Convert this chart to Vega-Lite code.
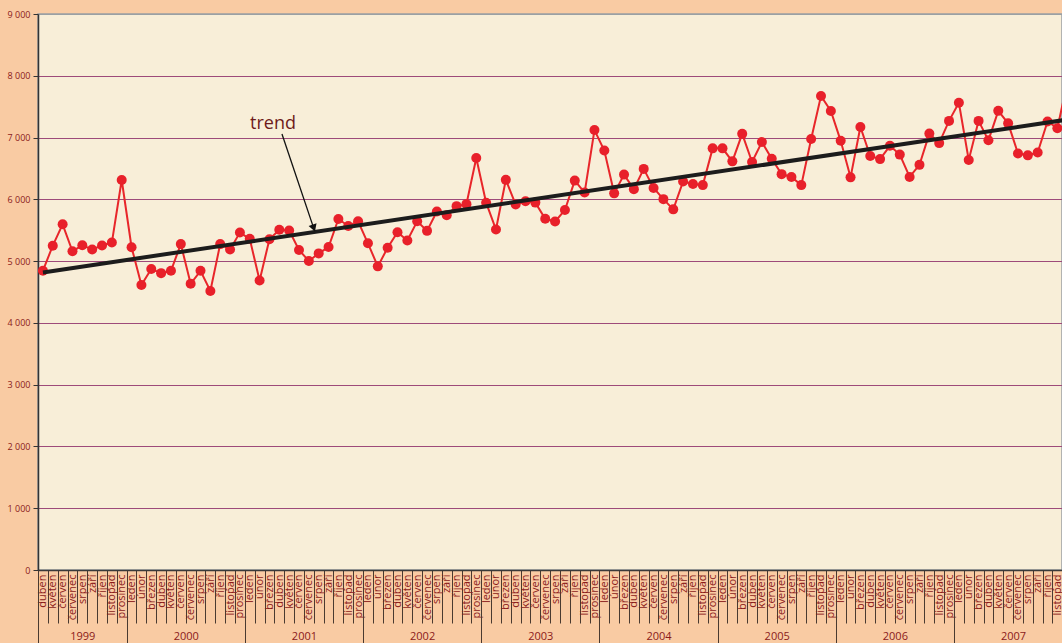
{
  "$schema": "https://vega.github.io/schema/vega-lite/v6.json",
  "width": 1024,
  "height": 556,
  "autosize": {"type": "none"},
  "padding": {"left": 38, "top": 14, "right": 0, "bottom": 73},
  "background": "#f9cba3",
  "config": {
    "view": {"fill": "#f8eed8", "stroke": "#9aa0a4", "strokeWidth": 1.5},
    "axis": {"title": null}
  },
  "datasets": {
    "monthly": [
      {"t":0,"v":4845},{"t":1,"v":5250},{"t":2,"v":5596},{"t":3,"v":5160},{"t":4,"v":5256},{"t":5,"v":5188},{"t":6,"v":5252},{"t":7,"v":5300},{"t":8,"v":6313},
      {"t":9,"v":5225},{"t":10,"v":4613},{"t":11,"v":4872},{"t":12,"v":4805},{"t":13,"v":4843},{"t":14,"v":5275},{"t":15,"v":4633},{"t":16,"v":4843},{"t":17,"v":4516},{"t":18,"v":5275},{"t":19,"v":5188},{"t":20,"v":5462},
      {"t":21,"v":5360},{"t":22,"v":4685},{"t":23,"v":5355},{"t":24,"v":5507},{"t":25,"v":5495},{"t":26,"v":5180},{"t":27,"v":5002},{"t":28,"v":5125},{"t":29,"v":5228},{"t":30,"v":5682},{"t":31,"v":5569},{"t":32,"v":5645},
      {"t":33,"v":5288},{"t":34,"v":4915},{"t":35,"v":5215},{"t":36,"v":5468},{"t":37,"v":5334},{"t":38,"v":5644},{"t":39,"v":5490},{"t":40,"v":5803},{"t":41,"v":5744},{"t":42,"v":5890},{"t":43,"v":5922},{"t":44,"v":6670},
      {"t":45,"v":5946},{"t":46,"v":5512},{"t":47,"v":6315},{"t":48,"v":5916},{"t":49,"v":5970},{"t":50,"v":5947},{"t":51,"v":5685},{"t":52,"v":5640},{"t":53,"v":5828},{"t":54,"v":6303},{"t":55,"v":6110},{"t":56,"v":7122},
      {"t":57,"v":6790},{"t":58,"v":6097},{"t":59,"v":6400},{"t":60,"v":6165},{"t":61,"v":6493},{"t":62,"v":6183},{"t":63,"v":6003},{"t":64,"v":5838},{"t":65,"v":6290},{"t":66,"v":6248},{"t":67,"v":6230},{"t":68,"v":6825},
      {"t":69,"v":6825},{"t":70,"v":6615},{"t":71,"v":7060},{"t":72,"v":6605},{"t":73,"v":6928},{"t":74,"v":6656},{"t":75,"v":6408},{"t":76,"v":6362},{"t":77,"v":6230},{"t":78,"v":6977},{"t":79,"v":7673},{"t":80,"v":7430},
      {"t":81,"v":6947},{"t":82,"v":6356},{"t":83,"v":7171},{"t":84,"v":6701},{"t":85,"v":6651},{"t":86,"v":6866},{"t":87,"v":6724},{"t":88,"v":6362},{"t":89,"v":6558},{"t":90,"v":7064},{"t":91,"v":6910},{"t":92,"v":7270},
      {"t":93,"v":7562},{"t":94,"v":6637},{"t":95,"v":7270},{"t":96,"v":6955},{"t":97,"v":7432},{"t":98,"v":7230},{"t":99,"v":6742},{"t":100,"v":6712},{"t":101,"v":6758},{"t":102,"v":7260},{"t":103,"v":7152},{"t":104,"v":7880}
    ],
    "trend": [{"t":0,"v":4816},{"t":104,"v":7291}],
    "label": [{"t":23.36,"v":7220,"text":"trend"}],
    "arrow": [{"t":24.27,"v":7058},{"t":27.5,"v":5530}],
    "head": [{"t":27.46,"v":5552}]
  },
  "resolve": {"axis": {"x": "independent", "y": "independent"}},
  "layer": [
    {
      "data": {"name": "monthly"},
      "mark": {"type": "line", "color": "#e8262a", "strokeWidth": 2, "clip": true},
      "encoding": {
        "x": {"field": "t", "type": "quantitative",
          "scale": {"domain": [-0.5, 103.47], "nice": false, "zero": false},
          "axis": {
            "orient": "bottom",
            "values": [0,1,2,3,4,5,6,7,8,9,10,11,12,13,14,15,16,17,18,19,20,21,22,23,24,25,26,27,28,29,30,31,32,33,34,35,36,37,38,39,40,41,42,43,44,45,46,47,48,49,50,51,52,53,54,55,56,57,58,59,60,61,62,63,64,65,66,67,68,69,70,71,72,73,74,75,76,77,78,79,80,81,82,83,84,85,86,87,88,89,90,91,92,93,94,95,96,97,98,99,100,101,102,103,104],
            "labelExpr": "['leden','únor','březen','duben','květen','červen','červenec','srpen','září','říjen','listopad','prosinec'][(datum.value + 3) % 12]",
            "tickOffset": -4.92,
            "labelOffset": 4.92,
            "tickSize": 53,
            "tickColor": "#4a3a30",
            "tickWidth": 1,
            "labelAngle": -90,
            "labelAlign": "right",
            "labelBaseline": "middle",
            "labelPadding": -49,
            "labelFont": "Open Sans",
            "labelFontSize": 11,
            "labelColor": "#8b1a1a",
            "labelOverlap": false,
            "labelFlush": false,
            "labelBound": false,
            "domain": true,
            "domainColor": "#3a3a3a",
            "domainWidth": 1.5,
            "grid": false
          }
        },
        "y": {"field": "v", "type": "quantitative",
          "scale": {"domain": [0, 9000], "nice": false},
          "axis": {
            "values": [0,1000,2000,3000,4000,5000,6000,7000,8000,9000],
            "labelExpr": "replace(format(datum.value, ','), ',', ' ')",
            "grid": true,
            "gridColor": {"condition": {"test": "datum.value == 9000 || datum.value == 0", "value": "#9aa0a4"}, "value": "#9e4a7a"},
            "gridWidth": 1,
            "domain": true,
            "domainColor": "#333333",
            "domainWidth": 1.5,
            "tickSize": 5,
            "tickColor": "#333333",
            "labelPadding": 3,
            "labelFont": "Open Sans",
            "labelFontSize": 9,
            "labelColor": "#8b1a1a"
          }
        }
      }
    },
    {
      "data": {"name": "monthly"},
      "mark": {"type": "point", "filled": true, "shape": "circle", "size": 100, "color": "#e8202a", "opacity": 1, "clip": true},
      "encoding": {
        "x": {"field": "t", "type": "quantitative",
          "axis": {
            "orient": "bottom",
            "values": [-0.5, 8.5, 20.5, 32.5, 44.5, 56.5, 68.5, 80.5, 92.5],
            "tickSize": 73,
            "tickColor": "#4a3a30",
            "tickWidth": 1,
            "labels": false,
            "domain": false,
            "grid": false
          }
        },
        "y": {"field": "v", "type": "quantitative", "axis": null}
      }
    },
    {
      "data": {"name": "trend"},
      "mark": {"type": "line", "color": "#1c1c1c", "strokeWidth": 4, "clip": true},
      "encoding": {
        "x": {"field": "t", "type": "quantitative",
          "axis": {
            "orient": "bottom",
            "values": [4, 14.5, 26.5, 38.5, 50.5, 62.5, 74.5, 86.5, 98.5],
            "labelExpr": "'' + (floor((datum.value + 3) / 12) + 1999)",
            "ticks": false,
            "domain": false,
            "grid": false,
            "labelPadding": 66,
            "labelBaseline": "middle",
            "labelFont": "Open Sans",
            "labelFontSize": 11,
            "labelColor": "#8b1a1a",
            "labelOverlap": false,
            "labelFlush": false,
            "labelBound": false
          }
        },
        "y": {"field": "v", "type": "quantitative", "axis": null}
      }
    },
    {
      "data": {"name": "arrow"},
      "mark": {"type": "line", "color": "#111111", "strokeWidth": 1.3, "clip": true},
      "encoding": {
        "x": {"field": "t", "type": "quantitative", "axis": null},
        "y": {"field": "v", "type": "quantitative", "axis": null}
      }
    },
    {
      "data": {"name": "head"},
      "mark": {"type": "point", "shape": "triangle", "filled": true, "size": 70, "angle": 161, "color": "#111111", "opacity": 1},
      "encoding": {
        "x": {"field": "t", "type": "quantitative", "axis": null},
        "y": {"field": "v", "type": "quantitative", "axis": null}
      }
    },
    {
      "data": {"name": "label"},
      "mark": {"type": "text", "font": "Open Sans", "fontSize": 18, "color": "#6e1a1a", "align": "center", "baseline": "middle"},
      "encoding": {
        "x": {"field": "t", "type": "quantitative", "axis": null},
        "y": {"field": "v", "type": "quantitative", "axis": null},
        "text": {"field": "text"}
      }
    }
  ]
}
